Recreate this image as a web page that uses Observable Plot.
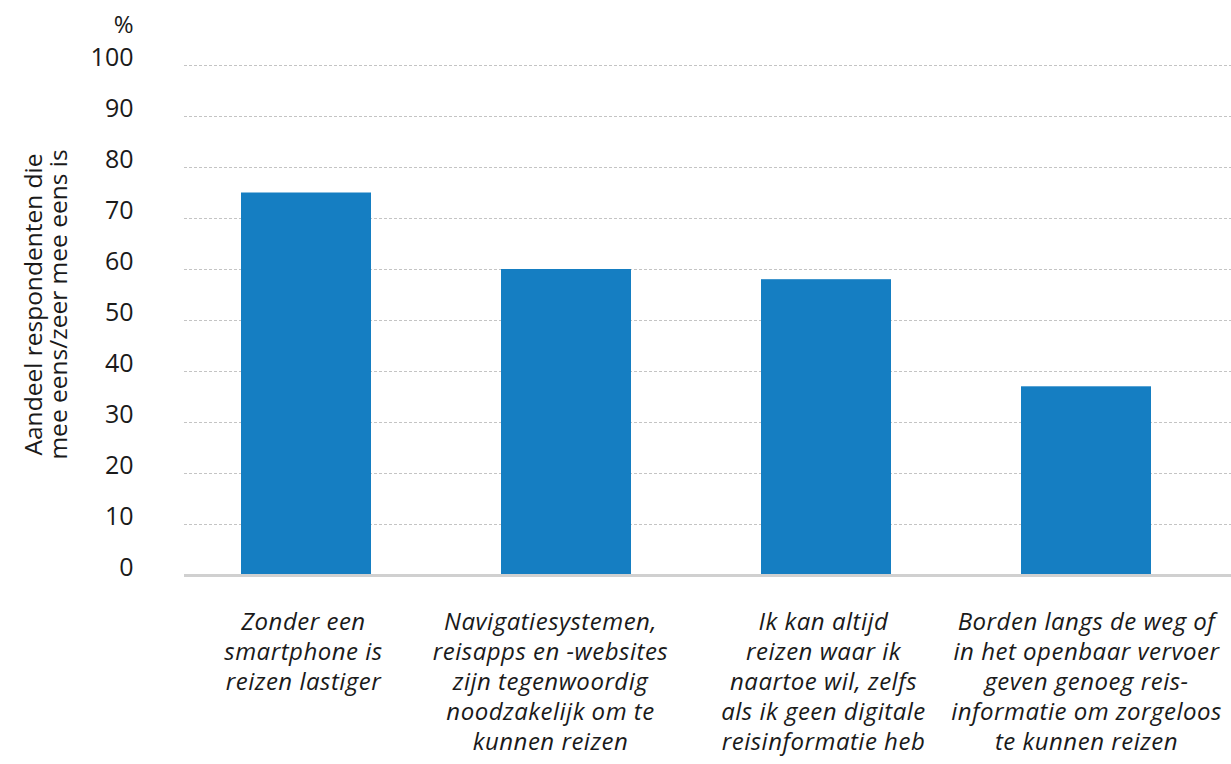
<!DOCTYPE html>
<html>
<head>
<meta charset="utf-8">
<script src="https://cdn.jsdelivr.net/npm/d3@7"></script>
<script src="https://cdn.jsdelivr.net/npm/@observablehq/plot@0.6"></script>
<style>
  html, body { margin: 0; padding: 0; background: #fff; }
  #chart svg { display: block; }
  #chart g[aria-label="x-axis tick label"] text { letter-spacing: 0.5px; }
</style>
</head>
<body>
<div id="chart"></div>
<script>
const categories = [
  "Zonder een\nsmartphone is\nreizen lastiger",
  "Navigatiesystemen,\nreisapps en -websites\nzijn tegenwoordig\nnoodzakelijk om te\nkunnen reizen",
  "Ik kan altijd\nreizen waar ik\nnaartoe wil, zelfs\nals ik geen digitale\nreisinformatie heb",
  "Borden langs de weg of\nin het openbaar vervoer\ngeven genoeg reis-\ninformatie om zorgeloos\nte kunnen reizen"
];
const values = [75, 60, 58, 37];
const yTicks = [0, 10, 20, 30, 40, 50, 60, 70, 80, 90, 100];
const yTitle = "Aandeel respondenten die\nmee eens/zeer mee eens is";
const unitLabel = "%";

const data = categories.map((c, i) => ({category: c, value: values[i]}));

const font = "'Open Sans', 'Noto Sans', sans-serif";
const xAxisStyle = {tickSize: 0, tickPadding: 33, label: null, fontSize: 24, fontStyle: "italic", lineHeight: 1.25, fill: "#1a1a1a"};

const chart = Plot.plot({
  width: 1231,
  height: 764,
  marginTop: 65,
  marginBottom: 189,
  marginLeft: 184,
  marginRight: 0,
  style: {fontFamily: font, fontSize: "22px", color: "#1a1a1a", background: "#fff"},
  x: {domain: categories, range: [184, 1207], paddingInner: 0.5, paddingOuter: 0.21},
  y: {domain: [0, 100]},
  marks: [
    Plot.ruleY(yTicks.filter(d => d > 0), {stroke: "#c4c4c4", strokeWidth: 1, strokeDasharray: "3,2"}),
    Plot.barY(data, {x: "category", y: "value", fill: "#157ec2"}),
    Plot.ruleY([0], {stroke: "#d0d0d0", strokeWidth: 3}),
    Plot.axisY({ticks: yTicks, tickSize: 0, tickPadding: 51, dy: -8, label: null, fontSize: 25, fill: "#1a1a1a"}),
    Plot.axisX({...xAxisStyle, ticks: [categories[0], categories[2]], dx: -3}),
    Plot.axisX({...xAxisStyle, ticks: [categories[1]], dx: -16}),
    Plot.axisX({...xAxisStyle, ticks: [categories[3]], dx: 0}),
    Plot.text([unitLabel], {frameAnchor: "top-left", dx: -51, dy: -50, textAnchor: "end", fontSize: 24, fill: "#1a1a1a"}),
    Plot.text([yTitle], {frameAnchor: "left", rotate: -90, dx: -138, dy: -16, textAnchor: "middle", lineAnchor: "middle", lineHeight: 1.0, fontSize: 24.5, fill: "#1a1a1a"})
  ]
});

document.getElementById("chart").appendChild(chart);
</script>
</body>
</html>
